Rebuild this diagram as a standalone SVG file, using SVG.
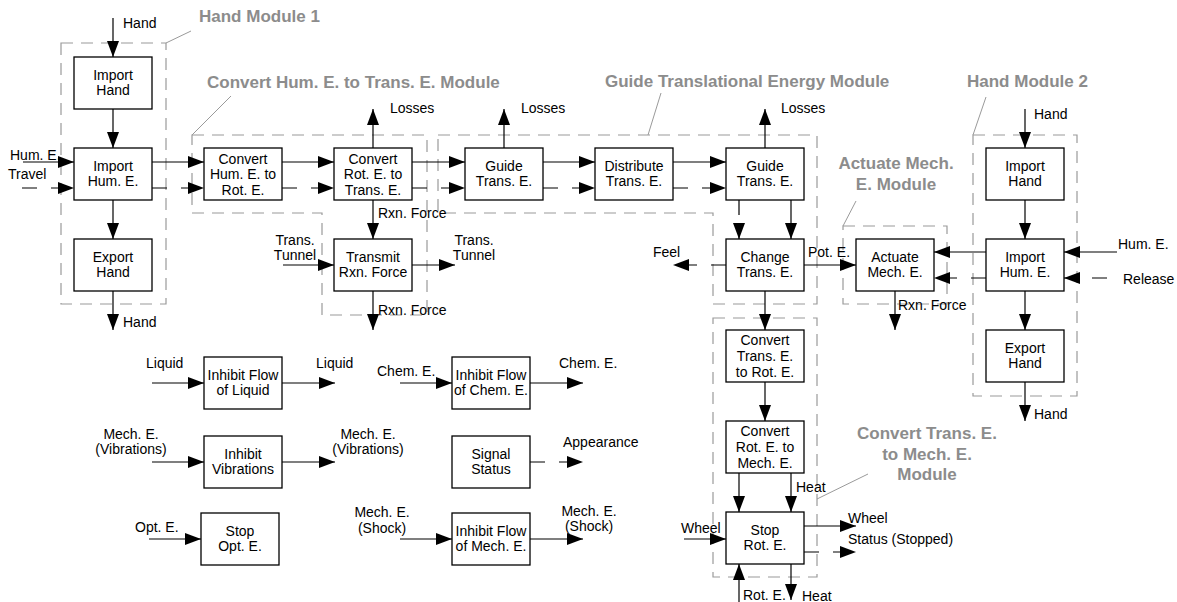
<svg xmlns="http://www.w3.org/2000/svg" width="1177" height="602" viewBox="0 0 1177 602">
<style>
text{font-family:"Liberation Sans",Arial,sans-serif;font-size:14px;fill:#000}
.t{text-anchor:middle}
.m{font-weight:bold;font-size:17px;fill:#8c8c8c}
.b{fill:#fff;stroke:#000;stroke-width:1.3}
.s{fill:none;stroke:#000;stroke-width:1.2;marker-end:url(#ah)}
.d{fill:none;stroke:#000;stroke-width:1.2;stroke-dasharray:15 14;marker-end:url(#ah)}
.g{fill:none;stroke:#9a9a9a;stroke-width:1.2;stroke-dasharray:12 8}
.ld{fill:none;stroke:#9a9a9a;stroke-width:1}
</style>
<defs>
<marker id="ah" markerWidth="16" markerHeight="12" refX="16" refY="6" orient="auto" markerUnits="userSpaceOnUse"><path d="M0,0 L16,6 L0,12 z" fill="#000" stroke="none"/></marker>
</defs>
<rect width="1177" height="602" fill="#fff"/>
<g id="modules">
<rect class="g" x="61" y="43" width="105" height="261"/>
<path class="ld" d="M166,43 L191,31"/>
<text class="m" x="199" y="22">Hand Module 1</text>
<path class="g" d="M192,135 H427 V315 H322 V213 H192 Z"/>
<path class="ld" d="M192,135 L231,96"/>
<text class="m" x="207" y="88">Convert Hum. E. to Trans. E. Module</text>
<path class="g" d="M438,135 H817 V304 H713 V213 H438 Z"/>
<path class="ld" d="M648,135 L661,93"/>
<text class="m" x="605" y="87">Guide Translational Energy Module</text>
<rect class="g" x="973" y="135" width="104" height="261"/>
<path class="ld" d="M973,135 L986,97"/>
<text class="m" x="967" y="87">Hand Module 2</text>
<rect class="g" x="843" y="226" width="104" height="78"/>
<path class="ld" d="M843,226 L856,201"/>
<text class="m t" x="896" y="169">Actuate Mech.</text>
<text class="m t" x="896" y="190">E. Module</text>
<rect class="g" x="713" y="318" width="104" height="259"/>
<path class="ld" d="M817,499 L868,474"/>
<text class="m t" x="927" y="439">Convert Trans. E.</text>
<text class="m t" x="927" y="460">to Mech. E.</text>
<text class="m t" x="927" y="480">Module</text>
</g>
<g id="connectors">
<path class="s" d="M113,18 V57"/>
<path class="s" d="M113,109 V148"/>
<path class="s" d="M113,200 V239"/>
<path class="s" d="M113,291 V330"/>
<path class="s" d="M23,162 H74"/>
<path class="d" d="M22,188 H74"/>
<path class="s" d="M152,162 H204"/>
<path class="d" d="M152,188 H204"/>
<path class="s" d="M282,162 H334"/>
<path class="d" d="M282,188 H334"/>
<path class="s" d="M412,162 H465"/>
<path class="d" d="M412,188 H465"/>
<path class="s" d="M543,162 H595"/>
<path class="d" d="M543,188 H595"/>
<path class="s" d="M673,162 H726"/>
<path class="d" d="M673,188 H726"/>
<path class="s" d="M373,148 V109"/>
<path class="s" d="M504,148 V109"/>
<path class="s" d="M765,148 V109"/>
<path class="s" d="M373,200 V239"/>
<path class="s" d="M373,291 V330"/>
<path class="s" d="M283,265 H334"/>
<path class="s" d="M412,265 H455"/>
<path class="d" d="M739,200 V239"/>
<path class="s" d="M791,200 V239"/>
<path class="d" d="M726,265 H673"/>
<path class="s" d="M804,265 H856"/>
<path class="s" d="M765,291 V330"/>
<path class="s" d="M765,382 V421"/>
<path class="s" d="M739,473 V512"/>
<path class="s" d="M791,473 V512"/>
<path class="s" d="M684,539 H726"/>
<path class="s" d="M804,526 H856"/>
<path class="d" d="M804,552 H856"/>
<path class="s" d="M739,602 V564"/>
<path class="s" d="M791,564 V600"/>
<path class="s" d="M1025,109 V148"/>
<path class="s" d="M1025,200 V239"/>
<path class="s" d="M1025,291 V330"/>
<path class="s" d="M1025,382 V421"/>
<path class="s" d="M1117,252 H1064"/>
<path class="d" d="M1107,278 H1064"/>
<path class="s" d="M986,252 H934"/>
<path class="d" d="M986,278 H934"/>
<path class="s" d="M895,291 V330"/>
<path class="s" d="M152,383 H204"/>
<path class="s" d="M282,383 H335"/>
<path class="s" d="M152,462 H204"/>
<path class="s" d="M282,462 H335"/>
<path class="s" d="M149,539 H201"/>
<path class="s" d="M400,383 H452"/>
<path class="s" d="M530,383 H583"/>
<path class="d" d="M530,462 H583"/>
<path class="s" d="M400,539 H452"/>
<path class="s" d="M530,539 H583"/>
</g>
<g id="labels">
<text x="123" y="28">Hand</text>
<text x="123" y="327">Hand</text>
<text x="10" y="160">Hum. E.</text>
<text x="8" y="179">Travel</text>
<text x="390" y="113">Losses</text>
<text x="521" y="113">Losses</text>
<text x="781" y="113">Losses</text>
<text x="378" y="218">Rxn. Force</text>
<text x="378" y="315">Rxn. Force</text>
<text class="t" x="295" y="245">Trans.</text>
<text class="t" x="295" y="260">Tunnel</text>
<text class="t" x="474" y="245">Trans.</text>
<text class="t" x="474" y="260">Tunnel</text>
<text x="653" y="257">Feel</text>
<text x="808" y="257">Pot. E.</text>
<text x="898" y="310">Rxn. Force</text>
<text x="1034" y="119">Hand</text>
<text x="1118" y="249">Hum. E.</text>
<text x="1123" y="284">Release</text>
<text x="1034" y="419">Hand</text>
<text x="796" y="492">Heat</text>
<text x="681" y="533">Wheel</text>
<text x="848" y="523">Wheel</text>
<text x="848" y="544">Status (Stopped)</text>
<text x="743" y="600">Rot. E.</text>
<text x="802" y="601">Heat</text>
<text x="146" y="368">Liquid</text>
<text x="316" y="368">Liquid</text>
<text class="t" x="131" y="439">Mech. E.</text>
<text class="t" x="131" y="454">(Vibrations)</text>
<text class="t" x="368" y="439">Mech. E.</text>
<text class="t" x="368" y="454">(Vibrations)</text>
<text x="135" y="532">Opt. E.</text>
<text x="377" y="376">Chem. E.</text>
<text x="559" y="368">Chem. E.</text>
<text x="563" y="447">Appearance</text>
<text class="t" x="382" y="517">Mech. E.</text>
<text class="t" x="382" y="533">(Shock)</text>
<text class="t" x="589" y="516">Mech. E.</text>
<text class="t" x="589" y="531">(Shock)</text>
</g>
<g id="hm1_import_hand"><rect class="b" x="74" y="57" width="78" height="52"/><text class="t" x="113" y="80">Import</text><text class="t" x="113" y="95">Hand</text></g>
<g id="hm1_import_hum"><rect class="b" x="74" y="148" width="78" height="52"/><text class="t" x="113" y="171">Import</text><text class="t" x="113" y="186">Hum. E.</text></g>
<g id="hm1_export_hand"><rect class="b" x="74" y="239" width="78" height="52"/><text class="t" x="113" y="262">Export</text><text class="t" x="113" y="277">Hand</text></g>
<g id="conv_hum_rot"><rect class="b" x="204" y="148" width="78" height="52"/><text class="t" x="243" y="163.5">Convert</text><text class="t" x="243" y="179">Hum. E. to</text><text class="t" x="243" y="194.5">Rot. E.</text></g>
<g id="conv_rot_trans"><rect class="b" x="334" y="148" width="78" height="52"/><text class="t" x="373" y="163.5">Convert</text><text class="t" x="373" y="179">Rot. E. to</text><text class="t" x="373" y="194.5">Trans. E.</text></g>
<g id="transmit"><rect class="b" x="334" y="239" width="78" height="52"/><text class="t" x="373" y="262">Transmit</text><text class="t" x="373" y="277">Rxn. Force</text></g>
<g id="guide1"><rect class="b" x="465" y="148" width="78" height="52"/><text class="t" x="504" y="171">Guide</text><text class="t" x="504" y="186">Trans. E.</text></g>
<g id="distribute"><rect class="b" x="595" y="148" width="78" height="52"/><text class="t" x="634" y="171">Distribute</text><text class="t" x="634" y="186">Trans. E.</text></g>
<g id="guide2"><rect class="b" x="726" y="148" width="78" height="52"/><text class="t" x="765" y="171">Guide</text><text class="t" x="765" y="186">Trans. E.</text></g>
<g id="change"><rect class="b" x="726" y="239" width="78" height="52"/><text class="t" x="765" y="262">Change</text><text class="t" x="765" y="277">Trans. E.</text></g>
<g id="conv_trans_rot"><rect class="b" x="726" y="330" width="78" height="52"/><text class="t" x="765" y="345">Convert</text><text class="t" x="765" y="361">Trans. E.</text><text class="t" x="765" y="377">to Rot. E.</text></g>
<g id="conv_rot_mech"><rect class="b" x="726" y="421" width="78" height="52"/><text class="t" x="765" y="436">Convert</text><text class="t" x="765" y="452">Rot. E. to</text><text class="t" x="765" y="468">Mech. E.</text></g>
<g id="stop_rot"><rect class="b" x="726" y="512" width="78" height="52"/><text class="t" x="765" y="535">Stop</text><text class="t" x="765" y="550">Rot. E.</text></g>
<g id="actuate"><rect class="b" x="856" y="239" width="78" height="52"/><text class="t" x="895" y="262">Actuate</text><text class="t" x="895" y="277">Mech. E.</text></g>
<g id="hm2_import_hand"><rect class="b" x="986" y="148" width="78" height="52"/><text class="t" x="1025" y="171">Import</text><text class="t" x="1025" y="186">Hand</text></g>
<g id="hm2_import_hum"><rect class="b" x="986" y="239" width="78" height="52"/><text class="t" x="1025" y="262">Import</text><text class="t" x="1025" y="277">Hum. E.</text></g>
<g id="hm2_export_hand"><rect class="b" x="986" y="330" width="78" height="52"/><text class="t" x="1025" y="353">Export</text><text class="t" x="1025" y="368">Hand</text></g>
<g id="inhibit_liquid"><rect class="b" x="204" y="357" width="78" height="52"/><text class="t" x="243" y="380">Inhibit Flow</text><text class="t" x="243" y="395">of Liquid</text></g>
<g id="inhibit_vib"><rect class="b" x="204" y="436" width="78" height="52"/><text class="t" x="243" y="459">Inhibit</text><text class="t" x="243" y="474">Vibrations</text></g>
<g id="stop_opt"><rect class="b" x="201" y="513" width="78" height="52"/><text class="t" x="240" y="536">Stop</text><text class="t" x="240" y="551">Opt. E.</text></g>
<g id="inhibit_chem"><rect class="b" x="452" y="357" width="78" height="52"/><text class="t" x="491" y="380">Inhibit Flow</text><text class="t" x="491" y="395">of Chem. E.</text></g>
<g id="signal"><rect class="b" x="452" y="436" width="78" height="52"/><text class="t" x="491" y="459">Signal</text><text class="t" x="491" y="474">Status</text></g>
<g id="inhibit_mech"><rect class="b" x="452" y="513" width="78" height="52"/><text class="t" x="491" y="536">Inhibit Flow</text><text class="t" x="491" y="551">of Mech. E.</text></g>
</svg>
